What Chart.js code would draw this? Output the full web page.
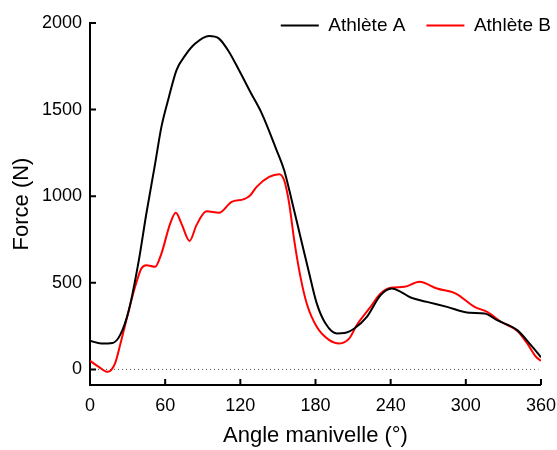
<!DOCTYPE html>
<html>
<head>
<meta charset="utf-8">
<script src="https://cdn.jsdelivr.net/npm/chart.js@4"></script>
<style>
  html, body { margin: 0; padding: 0; background: #ffffff; }
  #wrap { width: 557px; height: 450px; }
</style>
</head>
<body>
<div id="wrap"><canvas id="forceChart" width="557" height="450"></canvas></div>
<script>
// Force on the pedal over one crank revolution

const angleA = [0, 9, 18, 24, 31, 39, 45, 52, 57, 63, 69, 76, 84, 95, 103, 111, 119, 128, 137, 149, 155, 161, 168, 175, 181, 188, 197, 203, 211, 221, 232, 241, 248, 256, 269, 285, 303, 315, 325, 341, 352, 360];
const forceA = [165, 150, 153, 198, 342, 631, 900, 1188, 1400, 1573, 1727, 1813, 1881, 1925, 1910, 1833, 1727, 1602, 1480, 1265, 1150, 977, 765, 554, 381, 265, 208, 210, 236, 303, 429, 467, 448, 415, 390, 361, 327, 323, 284, 227, 140, 70];

const angleB = [0, 7, 14, 20, 25, 31, 36, 41, 45, 52, 57, 64, 68.5, 73, 79.5, 85, 93, 103, 113, 123, 128, 133, 143, 151, 155, 159, 163, 168, 173, 181, 191, 199, 207, 213, 223, 232, 240, 251, 263, 277, 292, 307, 317, 328, 341, 349, 356, 360];
const forceB = [50, 15, -14, 35, 169, 342, 477, 583, 602, 592, 669, 842, 904, 842, 742, 833, 913, 904, 967, 983, 1006, 1054, 1111, 1127, 1092, 958, 746, 534, 381, 246, 169, 150, 179, 256, 352, 438, 471, 477, 506, 467, 438, 361, 332, 275, 223, 150, 73, 50];

// dotted reference line at zero force
const zeroAngle = [0, 358];
const zeroForce = [0, 0];

const xTicks = [0, 60, 120, 180, 240, 300, 360];
const yTicks = [0, 500, 1000, 1500, 2000];

const seriesNames = ['Athlète A', 'Athlète B'];

const FONT = "'Liberation Sans', Arial, sans-serif";

const toPoints = (xs, ys) => xs.map((x, i) => ({ x: x, y: ys[i] }));

// ticks drawn inward from the axis lines
const innerTicks = {
  id: 'innerTicks',
  afterDraw(chart) {
    const { ctx, chartArea, scales } = chart;
    ctx.save();
    ctx.strokeStyle = '#000000';
    ctx.lineWidth = 2;
    ctx.beginPath();
    scales.x.ticks.forEach(t => {
      const px = scales.x.getPixelForValue(t.value);
      ctx.moveTo(px, chartArea.bottom);
      ctx.lineTo(px, chartArea.bottom - 6);
    });
    scales.y.ticks.forEach(t => {
      const py = scales.y.getPixelForValue(t.value);
      ctx.moveTo(chartArea.left, py);
      ctx.lineTo(chartArea.left + 6, py);
    });
    ctx.stroke();
    ctx.restore();
  }
};

// legend takes no room in the layout, it sits over the top-right corner
const legendPlace = {
  id: 'legendPlace',
  beforeLayout(chart) {
    const lg = chart.legend;
    if (lg && !lg._flat) {
      const fit = lg.fit.bind(lg);
      lg.fit = function () { fit(); this.height = 0; };
      lg._flat = true;
    }
  },
  afterLayout(chart) {
    const lg = chart.legend;
    if (!lg) return;
    lg.left = 0;
    lg.right = 551 + 21;
    lg.top = -5;
    lg.bottom = 60;
  }
};

new Chart(document.getElementById('forceChart').getContext('2d'), {
  type: 'line',
  data: {
    datasets: [
      {
        label: seriesNames[0],
        data: toPoints(angleA, forceA),
        borderColor: '#000000',
        borderWidth: 2,
        pointRadius: 0,
        cubicInterpolationMode: 'monotone',
        fill: false
      },
      {
        label: seriesNames[1],
        data: toPoints(angleB, forceB),
        borderColor: '#ff0000',
        borderWidth: 2,
        pointRadius: 0,
        cubicInterpolationMode: 'monotone',
        fill: false
      },
      {
        label: 'zero',
        data: toPoints(zeroAngle, zeroForce),
        borderColor: '#555555',
        borderWidth: 1,
        borderDash: [1, 3],
        pointRadius: 0,
        fill: false
      }
    ]
  },
  options: {
    responsive: false,
    animation: false,
    layout: { padding: { top: 23, right: 0, bottom: 0, left: 0 } },
    plugins: {
      tooltip: { enabled: false },
      legend: {
        position: 'top',
        align: 'end',
        labels: {
          usePointStyle: true,
          pointStyle: 'line',
          pointStyleWidth: 38,
          padding: 21,
          color: '#000000',
          font: { family: FONT, size: 19 },
          filter: item => item.datasetIndex < 2
        }
      }
    },
    scales: {
      x: {
        type: 'linear',
        min: 0,
        max: 360,
        afterBuildTicks: s => { s.ticks = xTicks.map(v => ({ value: v })); },
        afterFit: s => { s.height = 65; },
        grid: { drawOnChartArea: false, drawTicks: true, tickLength: 9, tickColor: 'rgba(0,0,0,0)' },
        border: { display: true, color: '#000000', width: 2 },
        ticks: {
          padding: 1,
          color: '#000000',
          maxRotation: 0,
          font: { family: FONT, size: 18 },
          callback: v => String(v)
        },
        title: {
          display: true,
          text: 'Angle manivelle (°)',
          color: '#000000',
          font: { family: FONT, size: 22 },
          padding: { top: 0, bottom: 1 }
        }
      },
      y: {
        min: -90,
        max: 2000,
        afterBuildTicks: s => { s.ticks = yTicks.map(v => ({ value: v })); },
        afterFit: s => { s.width = 90; },
        grid: { drawOnChartArea: false, drawTicks: false },
        border: { display: true, color: '#000000', width: 2 },
        ticks: {
          padding: 8,
          color: '#000000',
          font: { family: FONT, size: 18 },
          callback: v => String(v)
        },
        title: {
          display: true,
          text: 'Force (N)',
          color: '#000000',
          font: { family: FONT, size: 22 },
          padding: { top: 9, bottom: 0 }
        }
      }
    }
  },
  plugins: [innerTicks, legendPlace]
});
</script>
</body>
</html>
